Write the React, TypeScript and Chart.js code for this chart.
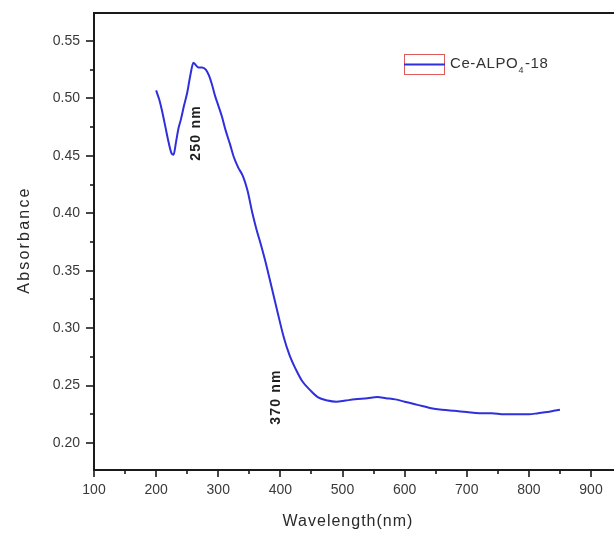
import React, { useEffect, useRef } from 'react';
import { Chart, registerables } from 'chart.js';

Chart.register(...registerables);

// ---- data ----
const wavelengths = [
  200, 205, 210, 215, 220, 225, 228, 232, 236, 240, 245, 250, 255, 260, 264, 268, 274, 280, 285, 290,
  295, 300, 306, 312, 319, 325, 332, 340, 347, 355, 362, 368, 375, 384, 395, 405, 415, 425, 435, 448,
  460, 476, 490, 505, 520, 540, 556, 570, 585, 600, 615, 630, 645, 660, 680, 700, 720, 740, 760, 780,
  800, 815, 830, 840, 850,
];
const absorbance = [
  0.507, 0.499, 0.488, 0.475, 0.462, 0.452, 0.451, 0.462, 0.474, 0.482, 0.494, 0.505, 0.52, 0.531, 0.529, 0.527, 0.527, 0.525, 0.52, 0.512,
  0.502, 0.494, 0.484, 0.472, 0.46, 0.449, 0.44, 0.432, 0.42, 0.4, 0.385, 0.374, 0.36, 0.34, 0.315, 0.293, 0.276, 0.264, 0.254, 0.246,
  0.24, 0.237, 0.236, 0.237, 0.238, 0.239, 0.24, 0.239, 0.238, 0.236, 0.234, 0.232, 0.23, 0.229, 0.228, 0.227, 0.226, 0.226, 0.225, 0.225,
  0.225, 0.226, 0.227, 0.228, 0.229,
];
const xTicks = [100, 200, 300, 400, 500, 600, 700, 800, 900];
const xMinorTicks = [150, 250, 350, 450, 550, 650, 750, 850];
const yTicks = [0.2, 0.25, 0.3, 0.35, 0.4, 0.45, 0.5, 0.55];
const yMinorTicks = [0.225, 0.275, 0.325, 0.375, 0.425, 0.475, 0.525];
const xRange = [100, 937];
const yRange = [0.1765, 0.5744];
const xTitle = 'Wavelength(nm)';
const yTitle = 'Absorbance';
const legendMain = 'Ce-ALPO';
const legendSub = '4';
const legendTail = '-18';
const peakLabels = ['250 nm', '370 nm'];
const peakLabelX = [264, 393];
const peakLabelY = [0.47, 0.24];

const LINE_COLOR = '#2f2fdc';

const decorPlugin = {
  id: 'decor',
  afterDraw(chart: any) {
    const { ctx, chartArea: a } = chart;
    const x = chart.scales.x;
    const y = chart.scales.y;
    ctx.save();
    // top frame line
    ctx.strokeStyle = '#1a1a1a';
    ctx.lineWidth = 2;
    ctx.beginPath();
    ctx.moveTo(a.left - 1, a.top);
    ctx.lineTo(a.right, a.top);
    ctx.stroke();

    // tick marks
    ctx.lineWidth = 1.6;
    const seg = (x1: number, y1: number, x2: number, y2: number) => {
      ctx.beginPath();
      ctx.moveTo(x1, y1);
      ctx.lineTo(x2, y2);
      ctx.stroke();
    };
    xTicks.forEach((v) => {
      const px = Math.round(x.getPixelForValue(v));
      seg(px, a.bottom, px, a.bottom + 7);
    });
    xMinorTicks.forEach((v) => {
      const px = Math.round(x.getPixelForValue(v));
      seg(px, a.bottom, px, a.bottom + 4);
    });
    yTicks.forEach((v) => {
      const py = Math.round(y.getPixelForValue(v));
      seg(a.left - 8, py, a.left, py);
    });
    yMinorTicks.forEach((v) => {
      const py = Math.round(y.getPixelForValue(v));
      seg(a.left - 4, py, a.left, py);
    });

    // axis titles
    ctx.fillStyle = '#2a2a2a';
    ctx.font = '16px "Liberation Sans", Arial, sans-serif';
    ctx.textAlign = 'center';
    ctx.textBaseline = 'middle';
    (ctx as any).letterSpacing = '1px';
    ctx.fillText(xTitle, 348, 522);
    ctx.save();
    ctx.translate(25, 240);
    ctx.rotate(-Math.PI / 2);
    (ctx as any).letterSpacing = '2.2px';
    ctx.fillText(yTitle, 0, 0);
    ctx.restore();

    // peak annotations
    ctx.font = 'bold 14px "Liberation Sans", Arial, sans-serif';
    (ctx as any).letterSpacing = '1.2px';
    ctx.fillStyle = '#1e1e1e';
    peakLabels.forEach((t, i) => {
      ctx.save();
      ctx.translate(x.getPixelForValue(peakLabelX[i]), y.getPixelForValue(peakLabelY[i]));
      ctx.rotate(-Math.PI / 2);
      ctx.fillText(t, 0, 0);
      ctx.restore();
    });

    // legend
    (ctx as any).letterSpacing = '0px';
    ctx.strokeStyle = '#e05a5a';
    ctx.lineWidth = 1;
    ctx.strokeRect(404.5, 54.5, 40, 20);
    ctx.strokeStyle = LINE_COLOR;
    ctx.lineWidth = 2;
    seg(404, 64.5, 445, 64.5);
    ctx.fillStyle = '#333';
    ctx.textAlign = 'left';
    ctx.font = '15px "Liberation Sans", Arial, sans-serif';
    (ctx as any).letterSpacing = '0.6px';
    let tx = 450;
    ctx.fillText(legendMain, tx, 64);
    tx += ctx.measureText(legendMain).width;
    ctx.font = '9px "Liberation Sans", Arial, sans-serif';
    ctx.fillText(legendSub, tx, 71);
    tx += ctx.measureText(legendSub).width + 1;
    ctx.font = '15px "Liberation Sans", Arial, sans-serif';
    ctx.fillText(legendTail, tx, 64);
    ctx.restore();
  },
};

export default function App() {
  const ref = useRef<HTMLCanvasElement | null>(null);
  useEffect(() => {
    document.body.style.margin = '0';
    const canvas = ref.current;
    if (!canvas) return;
    const chart = new Chart(canvas, {
      type: 'line',
      data: {
        datasets: [
          {
            label: legendMain + legendSub + legendTail,
            data: wavelengths.map((w, i) => ({ x: w, y: absorbance[i] })),
            borderColor: LINE_COLOR,
            borderWidth: 2,
            pointRadius: 0,
            fill: false,
            cubicInterpolationMode: 'monotone',
          },
        ],
      },
      options: {
        animation: false,
        responsive: false,
        layout: { padding: { top: 13, right: 0, left: 0, bottom: 0 } },
        plugins: { legend: { display: false }, tooltip: { enabled: false } },
        scales: {
          x: {
            type: 'linear',
            min: xRange[0],
            max: xRange[1],
            afterBuildTicks: (s: any) => {
              s.ticks = xTicks.map((v) => ({ value: v }));
            },
            afterFit: (s: any) => {
              s.height = 66;
              s.paddingLeft = 0;
              s.paddingRight = 0;
            },
            grid: { display: false, drawTicks: false },
            border: { display: true, color: '#1a1a1a', width: 2 },
            ticks: {
              padding: 12,
              color: '#3a3a3a',
              font: { family: '"Liberation Sans", Arial, sans-serif', size: 14 },
              maxRotation: 0,
              autoSkip: false,
            },
          },
          y: {
            type: 'linear',
            min: yRange[0],
            max: yRange[1],
            afterBuildTicks: (s: any) => {
              s.ticks = yTicks.map((v) => ({ value: v }));
            },
            afterFit: (s: any) => {
              s.width = 94;
              s.paddingTop = 0;
              s.paddingBottom = 0;
            },
            grid: { display: false, drawTicks: false },
            border: { display: true, color: '#1a1a1a', width: 2 },
            ticks: {
              padding: 14,
              color: '#3a3a3a',
              font: { family: '"Liberation Sans", Arial, sans-serif', size: 14 },
              callback: (v: any) => Number(v).toFixed(2),
              autoSkip: false,
            },
          },
        },
      },
      plugins: [decorPlugin],
    } as any);
    return () => chart.destroy();
  }, []);
  return (
    <div style={{ width: 614, height: 536, background: '#fff' }}>
      <canvas ref={ref} width={614} height={536} />
    </div>
  );
}
